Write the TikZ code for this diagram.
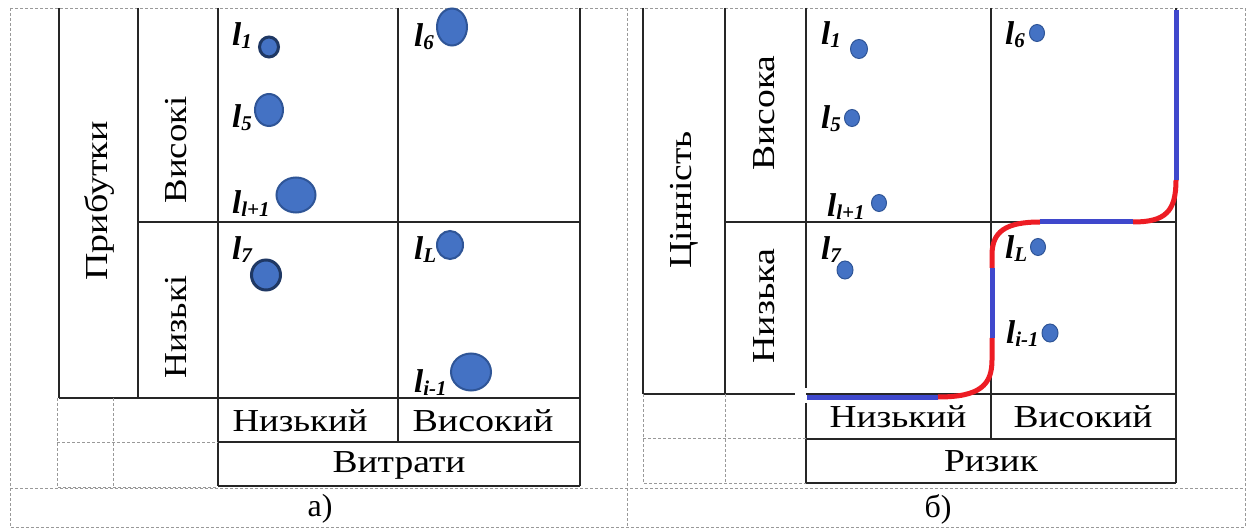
\documentclass[tikz,border=0pt]{standalone}
\usepackage{fontspec}
\usepackage{graphicx}
\setmainfont{Liberation Serif}
\usetikzlibrary{shapes.geometric}
\definecolor{dotfill}{HTML}{4472C4}
\definecolor{dotrim}{HTML}{2F5597}
\definecolor{dotdark}{HTML}{1F3864}
\definecolor{pathblue}{HTML}{3F48CC}
\definecolor{pathred}{HTML}{ED1C24}
% bold italic l with a lowered subscript
\newcommand{\elem}[1]{{\fontsize{33}{33}\selectfont\bfseries\itshape l}\raisebox{-3pt}{\fontsize{21}{21}\selectfont\bfseries\itshape #1}}
% caption text set to a given width, keeping its height
\newcommand{\fitw}[2]{\resizebox{#1}{\height}{#2}}
\begin{document}
\begin{tikzpicture}[x=1pt,y=-1pt,
  gridline/.style={draw=black!85,line width=1.5pt},
  guide/.style={draw=black!40,line width=0.9pt,dash pattern=on 3pt off 2pt},
  txt/.style={font=\fontsize{32}{32}\selectfont,inner sep=0pt},
  elemlabel/.style={anchor=base west,inner sep=0pt},
  bigdot/.style={ellipse,fill=dotfill,draw=dotrim,line width=2pt,inner sep=0pt},
  darkdot/.style={bigdot,draw=dotdark,line width=3pt},
  smalldot/.style={ellipse,fill=dotfill,draw=dotrim,line width=1pt,inner sep=0pt},
  bluepart/.style={draw=pathblue,line width=5pt},
  redpart/.style={draw=pathred,line width=5pt}]
\useasboundingbox (0,0) rectangle (1248,529);
\fill[white] (0,0) rectangle (1248,529);

% outer frame
\draw[guide] (10,8) rectangle (1245,527);
\draw[guide] (10,488) -- (1245,488);
\draw[guide] (627,8) -- (627,527);

% ---------- panel a ----------
\draw[gridline] (59,8) -- (59,398);
\draw[gridline] (138,8) -- (138,398);
\draw[gridline] (218,8) -- (218,486);
\draw[gridline] (398,8) -- (398,442);
\draw[gridline] (580,8) -- (580,486);
\draw[gridline] (138,222) -- (580,222);
\draw[gridline] (59,398) -- (580,398);
\draw[gridline] (218,442) -- (580,442);
\draw[gridline] (218,486) -- (580,486);
\draw[guide] (57,398) -- (57,487) -- (218,487);
\draw[guide] (113,398) -- (113,487);
\draw[guide] (57,442) -- (218,442);

\node[txt,rotate=90] (profit) at (99,201) {\fitw{159pt}{Прибутки}};
\node[txt,rotate=90] (phigh) at (176,150) {\fitw{107pt}{Високі}};
\node[txt,rotate=90] (plow) at (176,327) {\fitw{103pt}{Низькі}};
\node[txt] (clow) at (300,421) {\fitw{135pt}{Низький}};
\node[txt] (chigh) at (483,421) {\fitw{141pt}{Високий}};
\node[txt] (cost) at (399,465) {\fitw{133pt}{Витрати}};
\node[txt] (capa) at (320,509) {а)};

\node[darkdot,minimum width=19pt,minimum height=20pt] (a1) at (269,47) {};
\node[bigdot,minimum width=28pt,minimum height=32pt] (a5) at (269,110) {};
\node[bigdot,minimum width=39pt,minimum height=35pt] (al) at (296,195) {};
\node[darkdot,minimum width=29pt,minimum height=30pt] (a7) at (266,275) {};
\node[bigdot,minimum width=30pt,minimum height=37pt] (a6) at (452,27) {};
\node[bigdot,minimum width=26pt,minimum height=28pt] (aL) at (450,245) {};
\node[bigdot,minimum width=40pt,minimum height=37pt] (ai) at (471,372) {};

\node[elemlabel] (ta1) at (232,46) {\elem{1}};
\node[elemlabel] (ta5) at (232,128) {\elem{5}};
\node[elemlabel] (tal) at (232,214) {\elem{l+1}};
\node[elemlabel] (ta7) at (232,260) {\elem{7}};
\node[elemlabel] (ta6) at (414,47) {\elem{6}};
\node[elemlabel] (taL) at (414,260) {\elem{L}};
\node[elemlabel] (tai) at (414,392) {\elem{i-1}};

% ---------- panel b ----------
\draw[gridline] (643,8) -- (643,394);
\draw[gridline] (725,8) -- (725,394);
\draw[gridline] (806,8) -- (806,388);
\draw[gridline] (806,403) -- (806,483);
\draw[gridline] (991,8) -- (991,439);
\draw[gridline] (1176,8) -- (1176,483);
\draw[gridline] (725,222) -- (1176,222);
\draw[gridline] (643,394) -- (795,394);
\draw[gridline] (806,394) -- (1176,394);
\draw[gridline] (806,439) -- (1176,439);
\draw[gridline] (806,483) -- (1176,483);
\draw[guide] (643,394) -- (643,483) -- (806,483);
\draw[guide] (725,394) -- (725,483);
\draw[guide] (643,438) -- (806,438);

\node[txt,rotate=90] (value) at (684,200) {\fitw{138pt}{Цінність}};
\node[txt,rotate=90] (vhigh) at (764,113) {\fitw{115pt}{Висока}};
\node[txt,rotate=90] (vlow) at (764,306) {\fitw{115pt}{Низька}};
\node[txt] (rlow) at (898,417) {\fitw{137pt}{Низький}};
\node[txt] (rhigh) at (1083,417) {\fitw{139pt}{Високий}};
\node[txt] (risk) at (991,461) {\fitw{94pt}{Ризик}};
\node[txt] (capb) at (938,509) {б)};

\node[smalldot,minimum width=17pt,minimum height=19pt] (b1) at (859,49) {};
\node[smalldot,minimum width=15pt,minimum height=17pt] (b5) at (852,118) {};
\node[smalldot,minimum width=15pt,minimum height=17pt] (bl) at (879,203) {};
\node[smalldot,minimum width=16pt,minimum height=18pt] (b7) at (845,270) {};
\node[smalldot,minimum width=15pt,minimum height=17pt] (b6) at (1037,33) {};
\node[smalldot,minimum width=15pt,minimum height=17pt] (bL) at (1038,247) {};
\node[smalldot,minimum width=16pt,minimum height=18pt] (bi) at (1050,333) {};

\node[elemlabel] (tb1) at (821,45) {\elem{1}};
\node[elemlabel] (tb5) at (821,129) {\elem{5}};
\node[elemlabel] (tbl) at (827,217) {\elem{l+1}};
\node[elemlabel] (tb7) at (821,260) {\elem{7}};
\node[elemlabel] (tb6) at (1005,45) {\elem{6}};
\node[elemlabel] (tbL) at (1005,259) {\elem{L}};
\node[elemlabel] (tbi) at (1006,344) {\elem{i-1}};

% stepped frontier: blue straight runs, red rounded turns
\coordinate (s0) at (807,397);
\coordinate (s1) at (938,397);
\coordinate (s2) at (992,338);
\coordinate (s3) at (992,268);
\coordinate (s4) at (1040,222);
\coordinate (s5) at (1133,222);
\coordinate (s6) at (1176,180);
\coordinate (s7) at (1176,10);
\draw[bluepart] (s0) -- (s1);
\draw[redpart] (s1) .. controls (980,397) and (992,385) .. (992,360) -- (s2);
\draw[bluepart] (s2) -- (s3);
\draw[redpart] (s3) -- (992,255) .. controls (992,232) and (1005,222) .. (s4);
\draw[bluepart] (s4) -- (s5);
\draw[redpart] (s5) .. controls (1165,222) and (1176,212) .. (s6);
\draw[bluepart] (s6) -- (s7);
\end{tikzpicture}
\end{document}
